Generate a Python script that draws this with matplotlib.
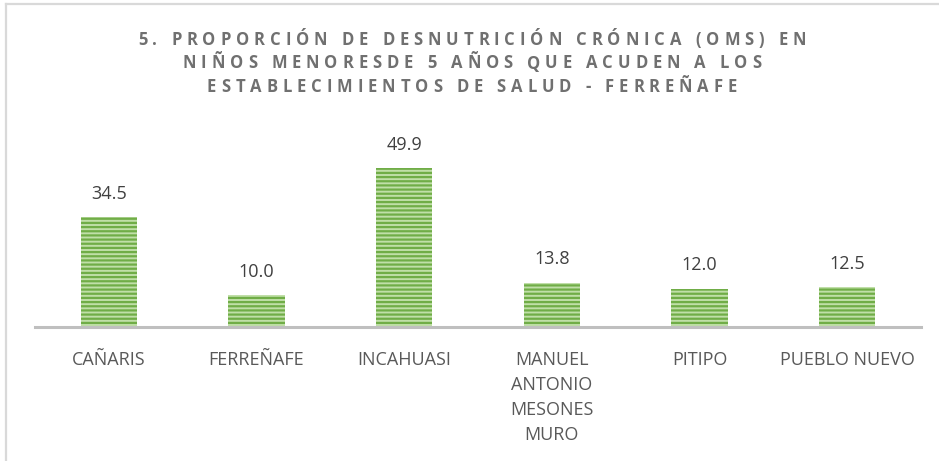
import matplotlib
matplotlib.use("Agg")
import matplotlib.pyplot as plt
from matplotlib.font_manager import FontProperties, findfont
from matplotlib.ft2font import FT2Font
from matplotlib.lines import Line2D
import numpy as np

categories = ["CAÑARIS", "FERREÑAFE", "INCAHUASI", "MANUEL\nANTONIO\nMESONES\nMURO", "PITIPO", "PUEBLO NUEVO"]
values = [34.5, 10.0, 49.9, 13.8, 12.0, 12.5]
value_labels = ["34.5", "10.0", "49.9", "13.8", "12.0", "12.5"]
title_lines = [
    "5. PROPORCIÓN DE DESNUTRICIÓN CRÓNICA (OMS) EN",
    "NIÑOS MENORESDE 5 AÑOS QUE ACUDEN A LOS",
    "ESTABLECIMIENTOS DE SALUD - FERREÑAFE",
]

W, H, DPI = 939, 461, 100
FONT = "Open Sans"
plt.rcParams["font.family"] = [FONT, "DejaVu Sans"]
plt.rcParams["hatch.linewidth"] = 1.6

fig = plt.figure(figsize=(W / DPI, H / DPI), dpi=DPI)
fig.patch.set_facecolor("white")

# chart border (visible top and left)
fig.add_artist(Line2D([6 / W, 6 / W], [0, 1 - 4 / H], color="#D9D9D9", lw=1.6))
fig.add_artist(Line2D([6 / W, 1], [1 - 4 / H, 1 - 4 / H], color="#D9D9D9", lw=1.6))

ax = fig.add_axes([35 / W, 1 - 327 / H, (921 - 35) / W, (327 - 120) / H])
x = np.arange(len(categories))
bars = ax.bar(x, values, width=0.38, color="#C0DFA8", edgecolor="#70AD47",
              hatch="----", linewidth=0, zorder=2)
ax.set_xlim(-0.5, len(categories) - 0.5)
ax.set_ylim(0, 65)
ax.set_yticks([])
for s in ["top", "right", "left"]:
    ax.spines[s].set_visible(False)
ax.spines["bottom"].set_color("#BFBFBF")
ax.spines["bottom"].set_linewidth(2.2)
ax.set_xticks(x)
ax.set_xticklabels(categories, fontsize=13, color="#595959", linespacing=1.5, va="top")
ax.tick_params(axis="x", length=0, pad=17)

for xi, v, lab in zip(x, values, value_labels):
    ax.annotate(lab, (xi, v), xytext=(0, 10.5), textcoords="offset points",
                ha="center", va="bottom", fontsize=13, color="#404040")

# letter-spaced title
fp = FontProperties(family=FONT, weight="bold", size=12)
font = FT2Font(findfont(fp))
font.set_size(fp.get_size_in_points(), DPI)
TRACK = 4.9  # px of extra letter spacing


def advances(s):
    out = []
    for c in s:
        g = font.load_char(ord(c))
        out.append(g.linearHoriAdvance / 65536.0)
    return out


line_baselines = [44.5, 68.5, 92]
cx = 472
for line, yy in zip(title_lines, line_baselines):
    adv = advances(line)
    total = sum(adv) + TRACK * (len(line) - 1)
    pos = cx - total / 2
    for c, a in zip(line, adv):
        if c != " ":
            fig.text(pos / W, 1 - yy / H, c, fontproperties=fp, color="#707070",
                     ha="left", va="baseline")
        pos += a + TRACK

fig.savefig("out.png", dpi=DPI)
